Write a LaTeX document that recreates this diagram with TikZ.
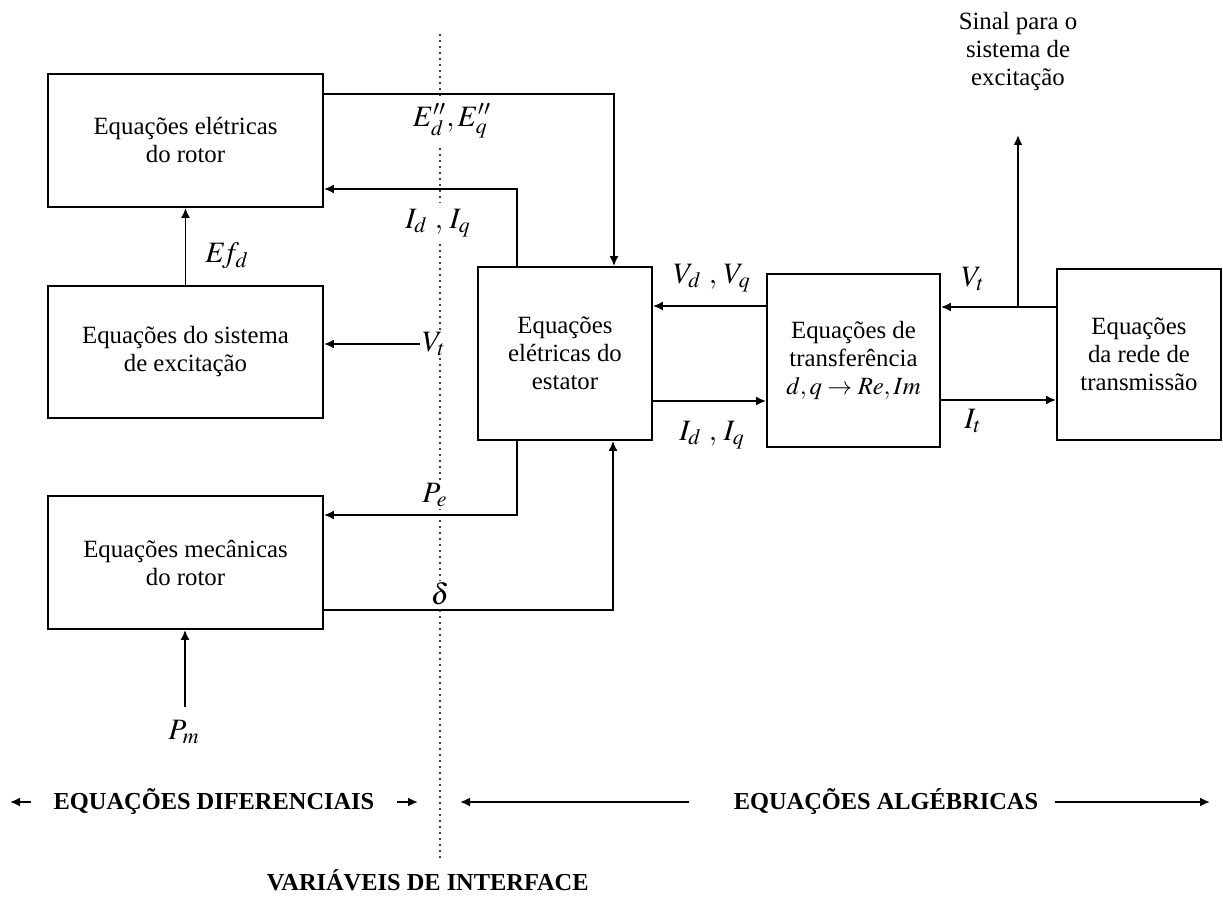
\documentclass[tikz,border=0pt]{standalone}
\usepackage{mathptmx}
\usepackage{fontspec}
\setmainfont{Liberation Serif}
\usetikzlibrary{calc,arrows.meta}

\begin{document}
\begin{tikzpicture}[x=0.5pt, y=-0.5pt, >={Latex[length=5pt,width=4.5pt]}, line width=0.9pt,
  every node/.style={font=\fontsize{12.4}{14}\selectfont, inner sep=2pt},
  bloco/.style={draw, line width=0.9pt, align=center},
  rotulo/.style={fill=white, inner sep=3pt, font=\fontsize{14.8}{16}\selectfont},
  var/.style={inner sep=1pt, font=\fontsize{14.8}{16}\selectfont},
  titulo/.style={font=\fontsize{12.2}{14}\selectfont\bfseries}]
\useasboundingbox (0,0) rectangle (1223,909);

% linha de interface
\draw[line width=1.1pt, line cap=round, dash pattern=on 0pt off 3pt] (440,35) -- (440,857);

% blocos
\node[bloco, minimum width=137.5pt, minimum height=66.5pt] (rotel) at (185.5,140.5) {Equações elétricas\\do rotor};
\node[bloco, minimum width=137.5pt, minimum height=66pt] (excit) at (185.5,352) {Equações do sistema\\de excitação};
\node[bloco, minimum width=137.5pt, minimum height=66.5pt] (mecan) at (185.5,562.5) {Equações mecânicas\\do rotor};
\node[bloco, minimum width=87pt, minimum height=86.5pt] (estat) at (565,353.5) {Equações\\elétricas do\\estator};
\node[bloco, minimum width=86.5pt, minimum height=86.5pt] (transf) at (853.5,360.5) {Equações de\\transferência\\$d,q \rightarrow Re,Im$};
\node[bloco, minimum width=82pt, minimum height=85.5pt] (rede) at (1139,354.5) {Equações\\da rede de\\transmissão};
\node[align=center] (sinal) at (1018,52) {Sinal para o\\sistema de\\excitação};

% rotulos
\node[rotulo] (edq) at (452,121) {$E''_d,E''_q$};
\node[rotulo] (idq1) at (438,223) {$I_d\ ,\,I_q$};
\node[var] (efd) at (227,256) {$E\!f_d$};
\node[rotulo, inner sep=1pt] (vt1) at (434,344) {$V_t$};
\node[rotulo, inner sep=1pt] (pe) at (435,495) {$P_e$};
\node[rotulo, inner sep=1pt] (delta) at (440,594) {$\delta$};
\node[var] (pm) at (184,732) {$P_m$};
\node[var] (vdq) at (712,278) {$V_d\ ,\,V_q$};
\node[var] (idq2) at (712,435) {$I_d\ ,\,I_q$};
\node[var] (vt2) at (973,279) {$V_t$};
\node[var] (it) at (973,421) {$I_t$};

\coordinate (eq) at (614,94);
\coordinate (iq) at (517,189);
\coordinate (pq) at (517,515);
\coordinate (dq) at (613,610);
\coordinate (pmq) at (185,707);
\coordinate (vq) at (0,306);
\coordinate (iq2) at (0,401);
\coordinate (sg) at (1018,307);
\coordinate (sgt) at (1018,135);

% ligacoes
\draw[->] (rotel.east |- eq) -- (eq) -- (eq |- estat.north);
\draw[->] (iq |- estat.north) -- (iq) -- (iq -| rotel.east);
\draw[->] (excit.north) -- (rotel.south);
\draw[->] (vt1.west) -- (vt1.west -| excit.east);
\draw[->] (pq |- estat.south) -- (pq) -- (pq -| mecan.east);
\draw[->] (mecan.east |- dq) -- (dq) -- (dq |- estat.south);
\draw[->] (pmq) -- (pmq |- mecan.south);
\draw[->] (transf.west |- vq) -- (estat.east |- vq);
\draw[->] (estat.east |- iq2) -- (transf.west |- iq2);
\draw[->] (rede.west |- sg) -- (transf.east |- sg);
\draw[->] (transf.east |- 0,400) -- (rede.west |- 0,400);
\draw[->] (sg) -- (sgt);

% faixas inferiores
\node[titulo] (dif) at (214,802) {EQUAÇÕES DIFERENCIAIS};
\node[titulo] (alg) at (886,802) {EQUAÇÕES ALGÉBRICAS};
\node[titulo, anchor=west] (var) at (262,880) {VARIÁVEIS DE INTERFACE};
\coordinate (difE) at (10,802);
\coordinate (difD) at (418,802);
\coordinate (algE) at (460,802);
\coordinate (algD) at (1210,802);
\draw[->] ([xshift=-9pt]dif.west) -- (difE);
\draw[->] ([xshift=9pt]dif.east) -- (difD);
\draw[->] ([xshift=-20pt]alg.west) -- (algE);
\draw[->] ([xshift=6pt]alg.east) -- (algD);

\end{tikzpicture}
\end{document}
